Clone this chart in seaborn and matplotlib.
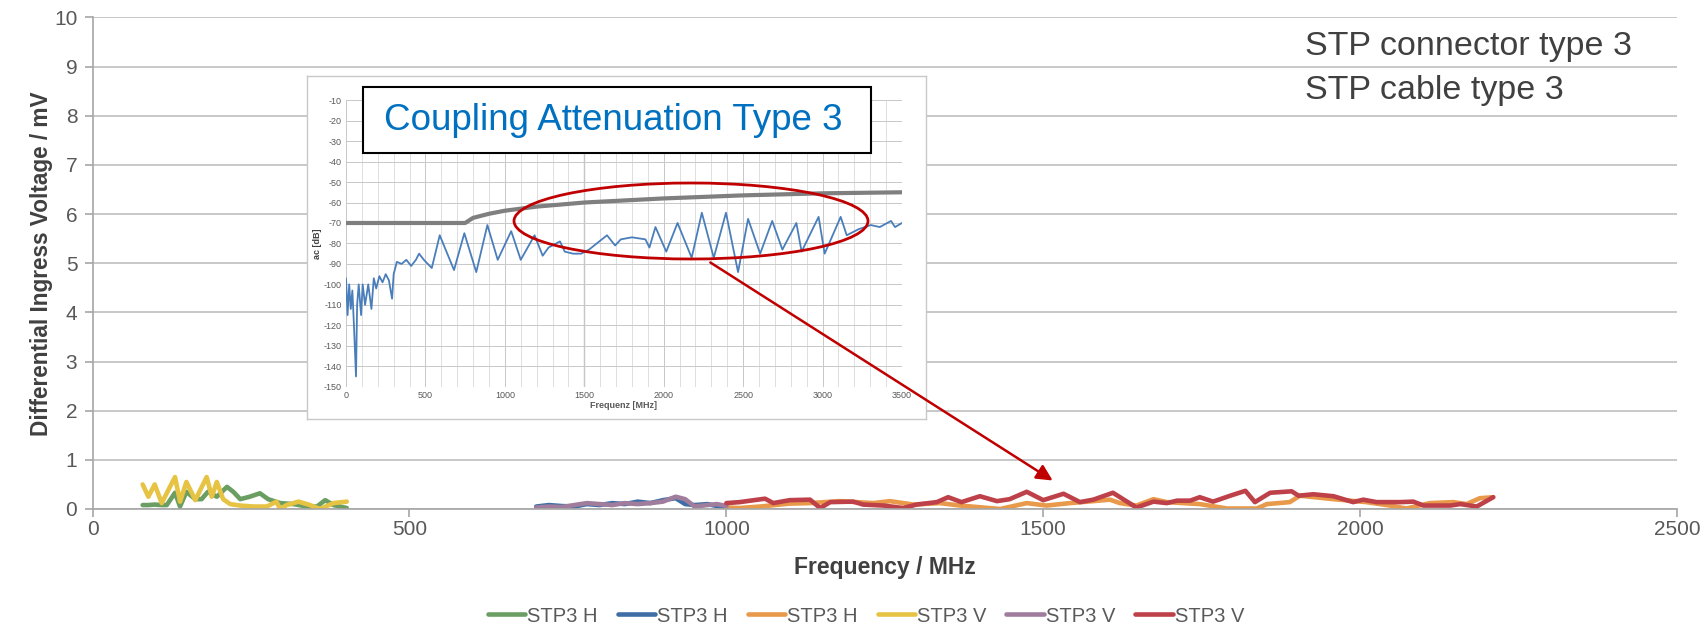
import numpy as np
import pandas as pd
import matplotlib
matplotlib.use("Agg")
import matplotlib.pyplot as plt
import seaborn as sns
from matplotlib.patches import Ellipse, Rectangle, FancyArrowPatch

# ---------------- data ----------------
green_f = [79, 88, 98, 109, 117, 130, 138, 148, 162, 172, 182, 196, 212, 222, 233, 248, 264, 277, 296, 317, 338, 354, 367, 380, 401]
green_v = [0.08, 0.08, 0.09, 0.08, 0.08, 0.33, 0.05, 0.35, 0.2, 0.2, 0.35, 0.25, 0.45, 0.35, 0.2, 0.25, 0.32, 0.2, 0.12, 0.1, 0.05, 0.05, 0.18, 0.08, 0.02]

blue_f = [700, 720, 740, 760, 780, 800, 820, 840, 860, 880, 900, 920, 935, 950, 970, 985, 1000]
blue_v = [0.05, 0.08, 0.06, 0.05, 0.1, 0.08, 0.12, 0.1, 0.15, 0.12, 0.18, 0.22, 0.1, 0.08, 0.1, 0.06, 0.05]

orange_f = [1000, 1021, 1053, 1100, 1132, 1179, 1232, 1258, 1295, 1337, 1369, 1432, 1474, 1505, 1542, 1579, 1605, 1621, 1647,
            1674, 1695, 1747, 1790, 1837, 1853, 1889, 1905, 1958, 2010, 2047, 2073, 2110, 2147, 2168, 2189, 2210]
orange_v = [0.03, 0.02, 0.05, 0.11, 0.12, 0.16, 0.12, 0.16, 0.09, 0.12, 0.07, 0.0, 0.12, 0.07, 0.12, 0.16, 0.19, 0.12, 0.07,
            0.2, 0.14, 0.1, 0.01, 0.01, 0.1, 0.14, 0.27, 0.2, 0.14, 0.07, 0.01, 0.12, 0.14, 0.1, 0.22, 0.24]

yellow_f = [79, 88, 98, 109, 130, 138, 148, 162, 180, 188, 196, 206, 217, 233, 254, 275, 290, 296, 306, 325, 343, 359, 380, 401]
yellow_v = [0.5, 0.25, 0.5, 0.12, 0.65, 0.15, 0.55, 0.18, 0.65, 0.25, 0.55, 0.2, 0.1, 0.07, 0.05, 0.05, 0.15, 0.0, 0.08, 0.15, 0.08, 0.0, 0.12, 0.15]

purple_f = [700, 720, 740, 760, 780, 800, 820, 840, 860, 880, 900, 920, 935, 950, 970, 985, 1000]
purple_v = [0.03, 0.05, 0.04, 0.08, 0.12, 0.1, 0.08, 0.12, 0.1, 0.12, 0.15, 0.25, 0.2, 0.05, 0.08, 0.1, 0.06]

red_f = [1000, 1021, 1061, 1074, 1100, 1132, 1148, 1164, 1200, 1216, 1248, 1279, 1300, 1332, 1350, 1371, 1400, 1427, 1447,
         1474, 1500, 1532, 1558, 1579, 1610, 1647, 1674, 1695, 1711, 1732, 1747, 1768, 1795, 1819, 1834, 1858, 1892,
         1903, 1926, 1958, 1989, 2005, 2026, 2063, 2084, 2100, 2142, 2158, 2184, 2210]
red_v = [0.12, 0.14, 0.21, 0.12, 0.18, 0.19, 0.02, 0.14, 0.15, 0.09, 0.07, 0.02, 0.09, 0.14, 0.24, 0.14, 0.26, 0.16, 0.2,
         0.35, 0.18, 0.31, 0.14, 0.19, 0.33, 0.03, 0.15, 0.12, 0.17, 0.17, 0.24, 0.15, 0.27, 0.37, 0.14, 0.33, 0.36,
         0.27, 0.3, 0.26, 0.14, 0.19, 0.14, 0.14, 0.15, 0.07, 0.07, 0.1, 0.05, 0.24]

series_labels = ["STP3 H", "STP3 H", "STP3 H", "STP3 V", "STP3 V", "STP3 V"]
series_colors = ["#6A9E62", "#3F6EA6", "#E8994A", "#E6C343", "#A07D9C", "#BE4048"]

x_ticks = [0, 500, 1000, 1500, 2000, 2500]
y_ticks = list(range(0, 11))

# inset (coupling attenuation) data
inset_f = [0, 10, 20, 30, 40, 50, 63, 70, 80, 95, 105, 120, 140, 160, 175, 190, 210, 230, 250, 270,
           290, 300, 320, 350, 380, 410, 440, 460, 490, 540, 590, 680, 745, 820, 890, 955, 1040, 1100, 1187, 1238,
           1275, 1347, 1377, 1430, 1480, 1530, 1643, 1694, 1730, 1800, 1885, 1910, 1948, 2016, 2087, 2176, 2240, 2315,
           2392, 2468, 2531, 2607, 2683, 2747, 2835, 2868, 2975, 3013, 3114, 3152, 3228, 3304, 3360, 3431, 3456, 3500]
inset_ac = [-97, -115, -100, -112, -103, -120, -145, -110, -100, -115, -100, -110, -100, -112, -97, -102, -96, -99, -95, -98,
            -107, -95, -89, -90, -88, -91, -88, -85, -88, -92, -76, -93, -75, -94, -71, -88, -74, -88, -76, -86,
            -82, -79, -84, -85, -85, -83, -76, -81, -78, -77, -78, -82, -72, -84, -70, -87, -65, -87,
            -65, -94, -68, -85, -69, -83, -70, -84, -67, -85, -67, -76, -73, -71, -72, -69, -72, -70]
limit_f = [0, 750, 800, 900, 1000, 1200, 1500, 2000, 2500, 3000, 3500]
limit_ac = [-70, -70, -67.5, -65.5, -64, -62, -60, -58, -56.5, -55.5, -55]

# ---------------- figure ----------------
sns.set_theme(style="white")
plt.rcParams['font.family'] = ['Liberation Sans', 'DejaVu Sans']
plt.rcParams['axes.unicode_minus'] = False

W, H = 1708, 633
fig = plt.figure(figsize=(W / 100, H / 100), dpi=100)
ax = fig.add_axes([92.6 / W, 1 - 509 / H, (1677 - 92.6) / W, (509 - 17.4) / H])

series = [(green_f, green_v), (blue_f, blue_v), (orange_f, orange_v),
          (yellow_f, yellow_v), (purple_f, purple_v), (red_f, red_v)]
handles = []
for (f, v), lab, col in zip(series, series_labels, series_colors):
    df = pd.DataFrame({"f": f, "v": v})
    sns.lineplot(data=df, x="f", y="v", ax=ax, color=col, lw=3.3, sort=False, estimator=None)
    handles.append(ax.lines[-1])

ax.set_xlim(0, 2500)
ax.set_ylim(0, 10)
ax.set_xticks(x_ticks)
ax.set_yticks(y_ticks)
ax.set_xticklabels([str(t) for t in x_ticks])
ax.set_yticklabels([str(t) for t in y_ticks])
ax.yaxis.grid(True, color="#BFBFBF", lw=1.2)
ax.xaxis.grid(False)
for s in ["top", "right"]:
    ax.spines[s].set_visible(False)
for s in ["left", "bottom"]:
    ax.spines[s].set_color("#A6A6A6")
    ax.spines[s].set_linewidth(1.2)
ax.tick_params(axis="y", which="major", length=6, width=1.2, color="#A6A6A6",
               labelsize=15, labelcolor="#595959", direction="out", left=True, pad=5)
ax.tick_params(axis="x", which="major", length=6, width=1.2, color="#A6A6A6",
               labelsize=15, labelcolor="#595959", direction="out", bottom=True, pad=2)
ax.set_xlabel("Frequency / MHz", fontsize=16.5, fontweight="bold", color="#404040", labelpad=12)
ax.set_ylabel("Differential Ingress Voltage / mV", fontsize=16.3, fontweight="bold", color="#404040", labelpad=1)

leg = fig.legend(handles, series_labels, loc="center", bbox_to_anchor=(0.507, 1 - 616 / H), ncol=6,
                 frameon=False, fontsize=14.5, handlelength=1.85, handletextpad=0.1, columnspacing=1.0)
for t in leg.get_texts():
    t.set_color("#595959")

fig.text(1305 / W, 1 - 46 / H, "STP connector type 3", fontsize=24.5, color="#404040", va="center", ha="left")
fig.text(1305 / W, 1 - 90 / H, "STP cable type 3", fontsize=24.5, color="#404040", va="center", ha="left")

# ---------------- inset ----------------
frame = fig.add_axes([307 / W, 1 - 419 / H, 619 / W, 343 / H])
frame.set_xticks([]); frame.set_yticks([])
frame.set_facecolor("white")
for s in frame.spines.values():
    s.set_color("#C8C8C8"); s.set_linewidth(1.0)

iax = fig.add_axes([346 / W, 1 - 386.7 / H, (902 - 346) / W, (386.7 - 100.2) / H])
iax.set_facecolor("white")
sns.lineplot(x=limit_f, y=limit_ac, ax=iax, color="#7F7F7F", lw=3, sort=False, estimator=None)
sns.lineplot(x=inset_f, y=inset_ac, ax=iax, color="#4A7EBB", lw=1.3, sort=False, estimator=None)
iax.set_xlim(0, 3500)
iax.set_ylim(-150, -10)
iax.set_xticks(np.arange(0, 3501, 500))
iax.set_xticks(np.arange(0, 3501, 100), minor=True)
iax.set_yticks(np.arange(-150, -9, 10))
iax.grid(True, which="major", color="#C8C8C8", lw=0.7)
iax.grid(True, which="minor", axis="x", color="#D9D9D9", lw=0.6)
iax.axvline(1500, color="#9A9A9A", lw=0.9, zorder=0)
iax.tick_params(axis="both", which="both", length=0, labelsize=6.5, labelcolor="#595959", pad=3)
for s in iax.spines.values():
    s.set_visible(False)
iax.set_xlabel("Frequenz [MHz]", fontsize=6.5, fontweight="bold", color="#595959", labelpad=1)
iax.set_ylabel("ac [dB]", fontsize=6.5, fontweight="bold", color="#404040", labelpad=1)

# title box in inset
fig.add_artist(Rectangle((362.7 / W, 1 - 152.5 / H), (871.4 - 362.7) / W, 65.5 / H, transform=fig.transFigure,
                         facecolor="white", edgecolor="black", lw=1.5, zorder=5))
fig.text(613 / W, 1 - 120 / H, "Coupling Attenuation Type 3", fontsize=26.5, color="#0070C0",
         ha="center", va="center", zorder=6)

# red ellipse and arrow
fig.add_artist(Ellipse((691 / W, 1 - 221 / H), 354 / W, 76 / H, transform=fig.transFigure,
                       facecolor="none", edgecolor="#C00000", lw=2, zorder=7))
fig.add_artist(FancyArrowPatch((708 / W, 1 - 261 / H), (1055 / W, 1 - 482 / H), transform=fig.transFigure,
                               arrowstyle="-|>", mutation_scale=24, color="#C00000", lw=1.8, zorder=7))

fig.savefig("out.png", dpi=100, facecolor="white")
